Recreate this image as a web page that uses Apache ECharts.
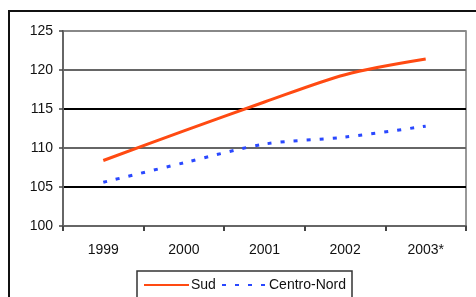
<!DOCTYPE html>
<html lang="it">
<head>
    <meta charset="UTF-8">
    <title>Sud / Centro-Nord</title>
    <script src="https://cdn.jsdelivr.net/npm/echarts@6/dist/echarts.min.js"></script>
    <style>
        html, body { margin: 0; padding: 0; background: #fff; }
        #chart { width: 476px; height: 297px; }
    </style>
</head>
<body>
    <div id="chart"></div>
    <script>
        // dati
        var years = ['1999', '2000', '2001', '2002', '2003*'];
        var sud = [108.4, 112.2, 115.9, 119.4, 121.4];
        var centroNord = [105.6, 108.1, 110.5, 111.4, 112.8];
        var yTicks = [100, 105, 110, 115, 120, 125];

        var font = 'Liberation Sans, Arial, sans-serif';
        var chart = echarts.init(document.getElementById('chart'));

        var legendText = { fontFamily: font, fontSize: 14, color: '#111', padding: [0, 0, 0, -3] };

        var option = {
            animation: false,
            grid: {
                left: 63, top: 31, right: 10, bottom: 71,
                show: true, borderColor: '#777', borderWidth: 1.5
            },
            graphic: [
                // cornice esterna
                { type: 'rect', shape: { x: 9, y: 11, width: 500, height: 320 },
                  style: { fill: 'none', stroke: '#111', lineWidth: 2 }, z: 0 },
                // riquadro legenda
                { type: 'rect', shape: { x: 137, y: 271, width: 215, height: 40 },
                  style: { fill: '#fff', stroke: '#333', lineWidth: 1.5 }, z: 1 }
            ],
            legend: [
                { data: ['Sud'], left: 143, top: 278, padding: 0, itemWidth: 45, itemHeight: 12,
                  itemStyle: { opacity: 0 }, textStyle: legendText, z: 5 },
                { data: ['Centro-Nord'], left: 221, top: 278, padding: 0, itemWidth: 45, itemHeight: 12,
                  itemStyle: { opacity: 0 }, textStyle: legendText, z: 5 }
            ],
            xAxis: {
                type: 'category',
                data: years,
                boundaryGap: true,
                axisLine: { lineStyle: { color: '#666', width: 2 } },
                axisTick: { show: true, length: 5, lineStyle: { color: '#444', width: 2 } },
                axisLabel: { fontFamily: font, fontSize: 14, color: '#111', margin: 17 }
            },
            yAxis: {
                type: 'value',
                min: yTicks[0],
                max: yTicks[yTicks.length - 1],
                interval: 5,
                axisLine: { show: true, lineStyle: { color: '#666', width: 2 } },
                axisTick: { show: true, length: 4, lineStyle: { color: '#444', width: 1.5 } },
                axisLabel: { fontFamily: font, fontSize: 14, color: '#111', margin: 10 },
                splitLine: {
                    show: true,
                    lineStyle: {
                        color: ['#666', '#000', '#666', '#000', '#666', '#888'],
                        width: 2
                    }
                }
            },
            series: [
                {
                    name: 'Sud',
                    type: 'line',
                    data: sud,
                    smooth: 0.3,
                    symbol: 'none',
                    lineStyle: { color: '#ff4a12', width: 3 },
                    itemStyle: { color: '#ff4a12' },
                    z: 3
                },
                {
                    name: 'Centro-Nord',
                    type: 'line',
                    data: centroNord,
                    smooth: 0.3,
                    symbol: 'none',
                    lineStyle: { color: '#2a48ff', width: 3, type: [4, 9] },
                    itemStyle: { color: '#2a48ff' },
                    z: 3
                }
            ]
        };

        chart.setOption(option);
    </script>
</body>
</html>
